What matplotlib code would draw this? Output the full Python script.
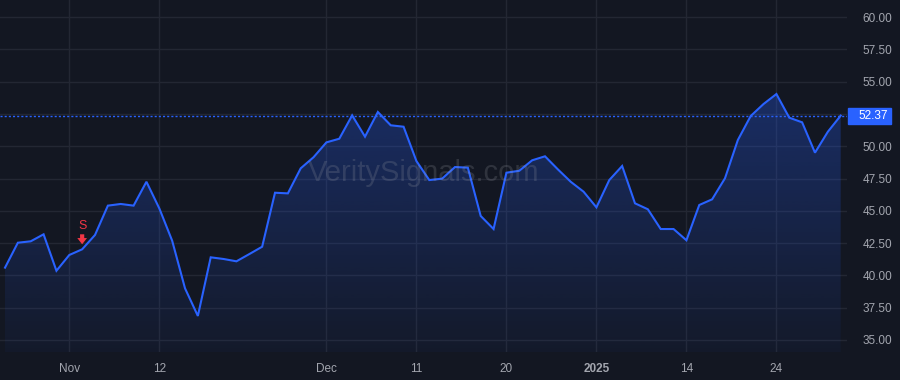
import numpy as np
import matplotlib
matplotlib.use('Agg')
import matplotlib.pyplot as plt
from matplotlib import transforms
from matplotlib.patches import Rectangle

# daily closes, trading days 2024-10-25 .. 2025-01-31
values = [40.60, 42.53, 42.64, 43.18, 40.36, 41.58, 42.02, 43.13, 45.40, 45.53,
          45.40, 47.25, 45.19, 42.69, 39.00, 36.86, 41.40, 41.27, 41.09, 41.65,
          42.22, 46.40, 46.35, 48.29, 49.15, 50.30, 50.58, 52.39, 50.74, 52.65,
          51.62, 51.51, 48.85, 47.38, 47.49, 48.39, 48.34, 44.60, 43.59, 47.95,
          48.10, 48.91, 49.22, 48.21, 47.25, 46.48, 45.27, 47.38, 48.47, 45.58,
          45.12, 43.59, 43.59, 42.72, 45.45, 45.89, 47.52, 50.48, 52.34, 53.27,
          54.04, 52.21, 51.85, 49.50, 51.12, 52.37]
tick_pos = [5, 12, 25, 32, 39, 46, 53, 60]
tick_labels = ['Nov', '12', 'Dec', '11', '20', '2025', '14', '24']
y_ticks = [35.0, 37.5, 40.0, 42.5, 45.0, 47.5, 50.0, 52.5, 55.0, 57.5, 60.0]
signal_idx = 6
signal_text = 'S'
last_price = values[-1]

bg = '#131722'
grid = '#232733'
blue = '#2962ff'
red = '#f23645'
txt = '#a3a6af'

plt.rcParams['font.family'] = ['Liberation Sans', 'DejaVu Sans']

fig = plt.figure(figsize=(9, 3.8), dpi=100, facecolor=bg)
ax = fig.add_axes([0, 28 / 380, 847 / 900, 352 / 380], facecolor=bg)

x = np.arange(len(values))
ax.set_xlim(-0.39, 65.49)
ax.set_ylim(34.07, 61.32)

# gradient fill under the line
poly = ax.fill_between(x, values, 34.07, color='none', lw=0)
grad = np.linspace(0.30, 0.04, 256).reshape(-1, 1)
rgba = np.zeros((256, 1, 4))
rgba[..., 0] = 41 / 255
rgba[..., 1] = 98 / 255
rgba[..., 2] = 1.0
rgba[..., 3] = grad
img = ax.imshow(rgba, aspect='auto', extent=[0, len(values) - 1, 34.07, max(values)],
                origin='upper', zorder=1)
img.set_clip_path(poly.get_paths()[0], transform=ax.transData)

ax.plot(x, values, color=blue, lw=1.5, zorder=3, solid_joinstyle='miter')

# last price line + label
ax.axhline(last_price, color=blue, lw=1, ls=(0, (1.5, 1.5)), zorder=2)
blend = transforms.blended_transform_factory(fig.transFigure, ax.transData)
ax.add_patch(Rectangle((848 / 900, last_price - 0.62), 43 / 900, 1.24,
                       transform=blend, color=blue, clip_on=False, zorder=5))
ax.text(873 / 900, last_price, f'{last_price:.2f}', transform=blend, color='white',
        fontsize=8.5, ha='center', va='center', zorder=6, clip_on=False)

# sell signal marker
v = values[signal_idx]
tip = transforms.offset_copy(ax.transData, fig=fig, x=0, y=5, units='dots')
tail = transforms.offset_copy(ax.transData, fig=fig, x=0, y=15, units='dots')
s_pos = transforms.offset_copy(ax.transData, fig=fig, x=0, y=23, units='dots')
ax.annotate('', xy=(signal_idx, v), xycoords=tip, xytext=(signal_idx, v), textcoords=tail,
            arrowprops=dict(arrowstyle='simple,head_width=0.7,head_length=0.45,tail_width=0.3',
                            fc=red, ec='none', shrinkA=0, shrinkB=0), zorder=6)
ax.text(signal_idx, v, signal_text, transform=s_pos, color=red, fontsize=9,
        ha='center', va='center', zorder=6)

# watermark
ax.text(0.471, 0.545, 'VeritySignals.com', transform=fig.transFigure, fontsize=21,
        color='#9598a1', alpha=0.22, ha='center', va='center', zorder=4)

ax.set_xticks(tick_pos)
ax.set_xticklabels(tick_labels)
for lab in ax.get_xticklabels():
    if lab.get_text() == '2025':
        lab.set_fontweight('bold')
        lab.set_color('#b2b5be')
ax.set_yticks(y_ticks)
# the 52.50 label is covered by the last-price tag
ax.set_yticklabels(['' if abs(t - last_price) < 0.8 else f'{t:.2f}' for t in y_ticks])
ax.yaxis.tick_right()
ax.tick_params(axis='x', length=0, pad=8, colors=txt, labelsize=8.5)
ax.tick_params(axis='y', length=0, pad=11, colors=txt, labelsize=8.5)
ax.grid(True, color=grid, lw=1, zorder=0)
ax.set_axisbelow(True)
for s in ax.spines.values():
    s.set_visible(False)

fig.savefig('out.png', dpi=100, facecolor=bg)
